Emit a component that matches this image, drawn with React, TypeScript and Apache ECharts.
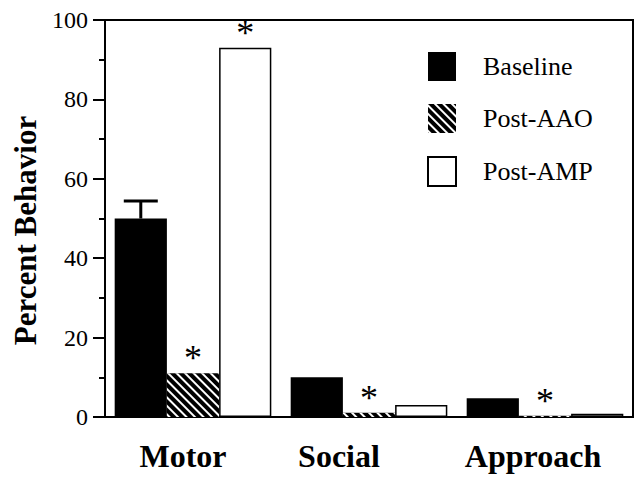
import React, { useEffect, useRef } from "react";
import * as echarts from "echarts";

const categories = ["Motor", "Social", "Approach"];
const baseline = [50, 10, 4.7];
const postAAO = [11, 1.1, 0.3];
const postAMP = [93, 3, 0.8];
const baselineErr = [4.4, 0, 0];
const aaoStar = [true, true, true];
const ampStar = [true, false, false];
const yTicks = [0, 20, 40, 60, 80, 100];

const SERIF = "Liberation Serif";

export default function App() {
  const ref = useRef<HTMLDivElement>(null);
  useEffect(() => {
    document.body.style.margin = "0";
    const chart = echarts.init(ref.current!, null, { renderer: "svg" });
    const catGap = 0.11;
    const starLabel = {
      show: true,
      position: "top",
      formatter: "*",
      fontFamily: SERIF,
      fontSize: 36,
      color: "#000",
      distance: -3,
    };
    const mk = (vals: number[], stars: boolean[]) =>
      vals.map((v, i) => (stars[i] ? { value: v, label: starLabel } : { value: v }));
    const option: any = {
      animation: false,
      backgroundColor: "#fff",
      textStyle: { fontFamily: SERIF },
      grid: {
        left: 105,
        right: 2,
        top: 20,
        bottom: 62,
        show: true,
        borderColor: "#000",
        borderWidth: 2,
      },
      legend: {
        data: ["Baseline", "Post-AAO", "Post-AMP"],
        orient: "vertical",
        left: 422,
        top: 47,
        itemWidth: 28,
        itemHeight: 29,
        itemGap: 23,
        icon: "rect",
        textStyle: { fontFamily: SERIF, fontSize: 26, color: "#000", padding: [0, 0, 0, 22] },
      },
      xAxis: {
        type: "category",
        data: [
          { value: categories[0], textStyle: { padding: [0, 20, 0, 0] } },
          { value: categories[1], textStyle: { padding: [0, 60, 0, 0] } },
          { value: categories[2], textStyle: { padding: [0, 24, 0, 0] } },
        ],
        axisLine: { show: true, lineStyle: { color: "#000", width: 2 } },
        axisTick: { show: false },
        axisLabel: {
          interval: 0,
          hideOverlap: false,
          fontFamily: SERIF,
          fontWeight: "bold",
          fontSize: 32,
          color: "#000",
          margin: 23,
        },
      },
      yAxis: {
        type: "value",
        min: yTicks[0],
        max: yTicks[yTicks.length - 1],
        interval: 20,
        name: "Percent Behavior",
        nameLocation: "middle",
        nameGap: 63,
        nameTextStyle: {
          fontFamily: SERIF,
          fontWeight: "bold",
          fontSize: 31,
          color: "#000",
          padding: [0, 24, 0, 0],
        },
        axisLine: { show: true, lineStyle: { color: "#000", width: 2 } },
        axisTick: { show: true, length: 12, lineStyle: { color: "#000", width: 2 } },
        minorTick: { show: true, splitNumber: 2, length: 6, lineStyle: { color: "#000", width: 2 } },
        splitLine: { show: false },
        axisLabel: {
          fontFamily: SERIF,
          fontSize: 24,
          color: "#000",
          margin: 17,
        },
      },
      series: [
        {
          name: "Baseline",
          type: "bar",
          data: baseline,
          barGap: "0%",
          barCategoryGap: catGap * 100 + "%",
          itemStyle: { color: "#000" },
        },
        {
          name: "Post-AAO",
          type: "bar",
          data: mk(postAAO, aaoStar),
          itemStyle: {
            color: "#000",
            decal: {
              symbol: "rect",
              color: "#fff",
              dashArrayX: [1, 0],
              dashArrayY: [2, 3.5],
              rotation: Math.PI / 4,
              symbolSize: 1,
            },
          },
        },
        {
          name: "Post-AMP",
          type: "bar",
          data: mk(postAMP, ampStar),
          itemStyle: { color: "#fff", borderColor: "#000", borderWidth: 1.5 },
        },
        {
          name: "err",
          type: "custom",
          data: baseline.map((v, i) => [i, v, baselineErr[i]]),
          encode: { x: 0, y: 1 },
          renderItem: (params: any, api: any) => {
            const err = api.value(2);
            if (!err) return null;
            const idx = api.value(0);
            const v = api.value(1);
            const catW = api.size([1, 0])[0];
            const bw = (catW * (1 - catGap)) / 3;
            const p0 = api.coord([idx, v]);
            const p1 = api.coord([idx, v + err]);
            const cx = p0[0] - bw;
            const half = 17;
            return {
              type: "group",
              children: [
                { type: "line", shape: { x1: cx, y1: p0[1], x2: cx, y2: p1[1] }, style: { stroke: "#000", lineWidth: 3 } },
                { type: "line", shape: { x1: cx - half, y1: p1[1], x2: cx + half, y2: p1[1] }, style: { stroke: "#000", lineWidth: 3 } },
              ],
            };
          },
        },
      ],
    };
    chart.setOption(option);
    return () => chart.dispose();
  }, []);
  return <div ref={ref} style={{ width: 635, height: 479 }} />;
}
